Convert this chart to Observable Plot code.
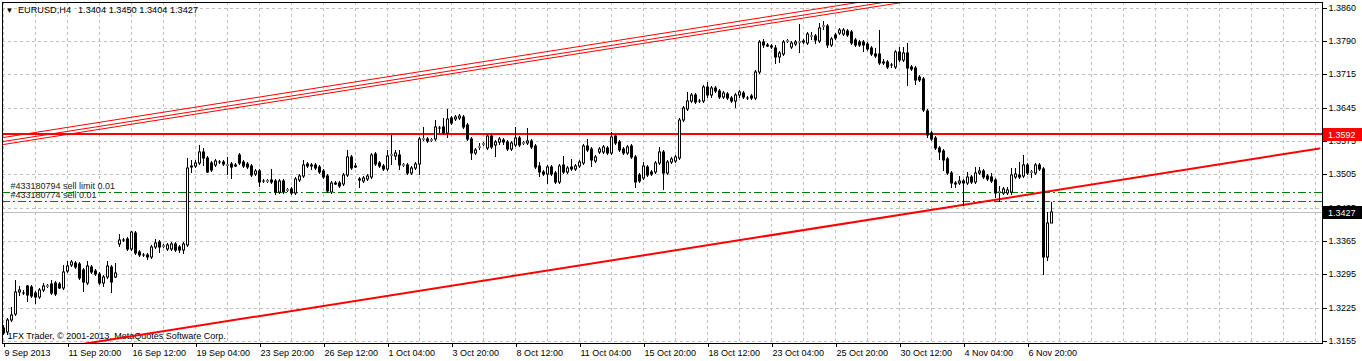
<!DOCTYPE html>
<html><head><meta charset="utf-8">
<script src="https://cdn.jsdelivr.net/npm/d3@7"></script>
<script src="https://cdn.jsdelivr.net/npm/@observablehq/plot@0.6"></script>
<style>
html,body{margin:0;padding:0;background:#fff;overflow:hidden}
svg{display:block}
</style>
</head><body><div id="chart"></div>
<script>
// ---------- data (EURUSD H4, bar 0 = 9 Sep 2013 04:00) ----------
const open = [
1.3183,1.3174,1.3199,1.3212,1.3259,1.3257,1.3271,1.3269,1.3257,1.3248,
1.3263,1.3271,1.3276,1.3278,1.3276,1.3267,1.3303,1.3316,1.3320,1.3318,
1.3305,1.3278,1.3312,1.3303,1.3297,1.3278,1.3290,1.3312,1.3290,1.3360,
1.3369,1.3371,1.3350,1.3384,1.3343,1.3337,1.3337,1.3333,1.3354,1.3364,
1.3356,1.3350,1.3350,1.3360,1.3354,1.3348,1.3358,1.3524,1.3525,1.3531,
1.3555,1.3542,1.3531,1.3527,1.3534,1.3534,1.3527,1.3529,1.3527,1.3548,
1.3534,1.3529,1.3525,1.3508,1.3515,1.3494,1.3493,1.3496,1.3494,1.3470,
1.3494,1.3474,1.3477,1.3468,1.3496,1.3504,1.3529,1.3527,1.3527,1.3523,
1.3515,1.3504,1.3470,1.3489,1.3489,1.3487,1.3506,1.3544,1.3525,1.3496,
1.3494,1.3498,1.3502,1.3550,1.3531,1.3525,1.3519,1.3548,1.3546,1.3548,
1.3527,1.3527,1.3510,1.3521,1.3529,1.3582,1.3582,1.3580,1.3582,1.3606,
1.3608,1.3595,1.3627,1.3624,1.3627,1.3629,1.3612,1.3582,1.3553,1.3565,
1.3571,1.3563,1.3588,1.3569,1.3576,1.3580,1.3576,1.3561,1.3569,1.3584,
1.3573,1.3574,1.3578,1.3567,1.3525,1.3512,1.3508,1.3523,1.3510,1.3491,
1.3527,1.3512,1.3523,1.3519,1.3525,1.3531,1.3567,1.3561,1.3536,1.3555,
1.3555,1.3563,1.3553,1.3588,1.3576,1.3561,1.3553,1.3567,1.3544,1.3506,
1.3500,1.3523,1.3512,1.3512,1.3531,1.3555,1.3510,1.3534,1.3536,1.3542,
1.3622,1.3646,1.3663,1.3675,1.3663,1.3663,1.3692,1.3675,1.3690,1.3684,
1.3671,1.3678,1.3669,1.3663,1.3675,1.3680,1.3669,1.3673,1.3669,1.3724,
1.3787,1.3781,1.3779,1.3775,1.3756,1.3762,1.3789,1.3777,1.3783,1.3787,
1.3787,1.3785,1.3800,1.3800,1.3789,1.3821,1.3821,1.3781,1.3802,1.3806,
1.3804,1.3811,1.3809,1.3792,1.3787,1.3787,1.3783,1.3775,1.3762,1.3762,
1.3745,1.3745,1.3739,1.3735,1.3766,1.3749,1.3764,1.3735,1.3732,1.3713,
1.3709,1.3642,1.3595,1.3584,1.3563,1.3557,1.3540,1.3510,1.3489,1.3489,
1.3494,1.3489,1.3502,1.3491,1.3510,1.3515,1.3504,1.3502,1.3496,1.3470,
1.3468,1.3468,1.3470,1.3502,1.3506,1.3504,1.3527,1.3512,1.3510,1.3527,
1.3519,1.3333,1.3404];
const high = [
1.3189,1.3204,1.3227,1.3284,1.3271,1.3263,1.3273,1.3273,1.3261,1.3267,
1.3278,1.3275,1.3284,1.3282,1.3280,1.3316,1.3324,1.3326,1.3324,1.3322,
1.3310,1.3324,1.3316,1.3307,1.3301,1.3295,1.3324,1.3316,1.3320,1.3381,
1.3373,1.3375,1.3388,1.3388,1.3348,1.3341,1.3341,1.3358,1.3371,1.3369,
1.3360,1.3362,1.3364,1.3364,1.3358,1.3364,1.3542,1.3538,1.3538,1.3569,
1.3563,1.3546,1.3536,1.3540,1.3538,1.3538,1.3544,1.3534,1.3531,1.3553,
1.3538,1.3534,1.3529,1.3519,1.3519,1.3498,1.3498,1.3519,1.3498,1.3498,
1.3498,1.3479,1.3481,1.3502,1.3508,1.3538,1.3534,1.3531,1.3531,1.3527,
1.3519,1.3508,1.3494,1.3494,1.3494,1.3510,1.3559,1.3548,1.3531,1.3502,
1.3504,1.3508,1.3553,1.3555,1.3536,1.3529,1.3559,1.3591,1.3559,1.3559,
1.3531,1.3531,1.3525,1.3534,1.3586,1.3608,1.3586,1.3584,1.3622,1.3610,
1.3627,1.3646,1.3631,1.3633,1.3635,1.3633,1.3616,1.3586,1.3563,1.3574,
1.3576,1.3593,1.3593,1.3580,1.3586,1.3584,1.3580,1.3578,1.3608,1.3588,
1.3578,1.3606,1.3582,1.3571,1.3534,1.3517,1.3527,1.3527,1.3515,1.3529,
1.3546,1.3525,1.3540,1.3529,1.3538,1.3571,1.3582,1.3565,1.3548,1.3565,
1.3569,1.3567,1.3597,1.3593,1.3580,1.3565,1.3569,1.3571,1.3548,1.3510,
1.3534,1.3527,1.3517,1.3536,1.3565,1.3559,1.3538,1.3544,1.3548,1.3627,
1.3652,1.3682,1.3680,1.3680,1.3667,1.3696,1.3703,1.3694,1.3694,1.3688,
1.3684,1.3682,1.3673,1.3680,1.3686,1.3684,1.3673,1.3678,1.3728,1.3792,
1.3794,1.3785,1.3783,1.3781,1.3768,1.3792,1.3794,1.3789,1.3792,1.3825,
1.3794,1.3808,1.3808,1.3804,1.3828,1.3832,1.3825,1.3798,1.3806,1.3817,
1.3817,1.3815,1.3813,1.3796,1.3792,1.3792,1.3787,1.3779,1.3775,1.3813,
1.3751,1.3749,1.3743,1.3771,1.3777,1.3777,1.3785,1.3739,1.3737,1.3718,
1.3713,1.3646,1.3599,1.3588,1.3567,1.3561,1.3544,1.3515,1.3494,1.3504,
1.3498,1.3512,1.3506,1.3523,1.3523,1.3519,1.3508,1.3510,1.3500,1.3483,
1.3481,1.3481,1.3521,1.3521,1.3534,1.3548,1.3531,1.3517,1.3531,1.3531,
1.3523,1.3428,1.3450];
const low = [
1.3168,1.3168,1.3195,1.3208,1.3250,1.3252,1.3238,1.3246,1.3233,1.3244,
1.3259,1.3267,1.3252,1.3250,1.3265,1.3263,1.3299,1.3312,1.3307,1.3284,
1.3259,1.3273,1.3297,1.3292,1.3273,1.3269,1.3286,1.3257,1.3288,1.3354,
1.3364,1.3345,1.3345,1.3337,1.3333,1.3333,1.3326,1.3328,1.3350,1.3341,
1.3352,1.3345,1.3345,1.3343,1.3341,1.3339,1.3354,1.3510,1.3521,1.3527,
1.3525,1.3510,1.3512,1.3523,1.3529,1.3525,1.3506,1.3498,1.3523,1.3527,
1.3521,1.3519,1.3502,1.3504,1.3481,1.3489,1.3489,1.3487,1.3464,1.3466,
1.3466,1.3470,1.3464,1.3464,1.3491,1.3500,1.3521,1.3517,1.3517,1.3508,
1.3498,1.3468,1.3466,1.3485,1.3479,1.3483,1.3502,1.3517,1.3521,1.3479,
1.3489,1.3494,1.3498,1.3525,1.3521,1.3515,1.3515,1.3527,1.3538,1.3517,
1.3523,1.3506,1.3506,1.3517,1.3506,1.3578,1.3573,1.3576,1.3578,1.3595,
1.3591,1.3584,1.3612,1.3620,1.3622,1.3603,1.3578,1.3538,1.3548,1.3559,
1.3567,1.3559,1.3561,1.3544,1.3569,1.3569,1.3557,1.3557,1.3565,1.3565,
1.3569,1.3569,1.3561,1.3519,1.3502,1.3504,1.3487,1.3504,1.3487,1.3487,
1.3508,1.3508,1.3515,1.3515,1.3521,1.3527,1.3555,1.3523,1.3531,1.3550,
1.3550,1.3548,1.3548,1.3569,1.3555,1.3548,1.3548,1.3540,1.3479,1.3489,
1.3496,1.3502,1.3504,1.3508,1.3527,1.3474,1.3506,1.3529,1.3531,1.3538,
1.3618,1.3642,1.3658,1.3656,1.3658,1.3658,1.3670,1.3670,1.3680,1.3667,
1.3667,1.3665,1.3658,1.3648,1.3670,1.3667,1.3665,1.3665,1.3665,1.3720,
1.3774,1.3777,1.3773,1.3741,1.3743,1.3758,1.3785,1.3773,1.3779,1.3764,
1.3783,1.3781,1.3792,1.3783,1.3785,1.3813,1.3775,1.3777,1.3792,1.3802,
1.3800,1.3798,1.3781,1.3777,1.3777,1.3766,1.3768,1.3758,1.3754,1.3739,
1.3739,1.3730,1.3732,1.3730,1.3745,1.3745,1.3694,1.3726,1.3696,1.3703,
1.3639,1.3584,1.3578,1.3559,1.3538,1.3515,1.3506,1.3479,1.3479,1.3485,
1.3441,1.3485,1.3487,1.3487,1.3506,1.3498,1.3494,1.3489,1.3457,1.3449,
1.3464,1.3464,1.3464,1.3498,1.3498,1.3500,1.3506,1.3500,1.3506,1.3515,
1.3295,1.3324,1.3404];
const close = [
1.3172,1.3199,1.3210,1.3259,1.3263,1.3256,1.3252,1.3250,1.3248,1.3263,
1.3271,1.3272,1.3257,1.3254,1.3267,1.3301,1.3314,1.3322,1.3312,1.3288,
1.3280,1.3314,1.3301,1.3297,1.3278,1.3290,1.3314,1.3280,1.3299,1.3369,
1.3368,1.3350,1.3386,1.3341,1.3337,1.3336,1.3333,1.3354,1.3362,1.3354,
1.3357,1.3358,1.3360,1.3348,1.3348,1.3360,1.3521,1.3525,1.3531,1.3555,
1.3542,1.3512,1.3517,1.3536,1.3533,1.3529,1.3528,1.3523,1.3526,1.3531,
1.3525,1.3523,1.3506,1.3515,1.3491,1.3493,1.3494,1.3491,1.3470,1.3494,
1.3470,1.3475,1.3468,1.3498,1.3504,1.3527,1.3525,1.3526,1.3521,1.3512,
1.3502,1.3472,1.3489,1.3488,1.3483,1.3506,1.3544,1.3521,1.3524,1.3497,
1.3500,1.3504,1.3548,1.3529,1.3525,1.3519,1.3546,1.3549,1.3553,1.3527,
1.3528,1.3510,1.3521,1.3529,1.3582,1.3583,1.3578,1.3581,1.3608,1.3605,
1.3595,1.3624,1.3616,1.3629,1.3631,1.3608,1.3582,1.3553,1.3559,1.3566,
1.3572,1.3588,1.3565,1.3576,1.3582,1.3576,1.3561,1.3574,1.3584,1.3569,
1.3574,1.3578,1.3565,1.3523,1.3512,1.3508,1.3523,1.3508,1.3491,1.3525,
1.3512,1.3521,1.3519,1.3525,1.3534,1.3567,1.3559,1.3538,1.3544,1.3561,
1.3565,1.3553,1.3586,1.3574,1.3559,1.3553,1.3565,1.3544,1.3491,1.3494,
1.3525,1.3506,1.3508,1.3531,1.3555,1.3510,1.3534,1.3540,1.3544,1.3622,
1.3648,1.3663,1.3675,1.3661,1.3662,1.3692,1.3675,1.3690,1.3684,1.3671,
1.3680,1.3669,1.3663,1.3675,1.3682,1.3671,1.3668,1.3669,1.3724,1.3787,
1.3781,1.3780,1.3777,1.3756,1.3764,1.3787,1.3790,1.3785,1.3787,1.3788,
1.3790,1.3804,1.3801,1.3792,1.3817,1.3822,1.3781,1.3794,1.3796,1.3813,
1.3813,1.3802,1.3785,1.3781,1.3781,1.3781,1.3773,1.3762,1.3758,1.3743,
1.3744,1.3735,1.3738,1.3766,1.3749,1.3764,1.3732,1.3730,1.3707,1.3707,
1.3644,1.3591,1.3582,1.3563,1.3555,1.3538,1.3510,1.3489,1.3488,1.3494,
1.3489,1.3502,1.3491,1.3510,1.3515,1.3502,1.3498,1.3494,1.3468,1.3471,
1.3477,1.3474,1.3506,1.3508,1.3502,1.3527,1.3510,1.3513,1.3527,1.3519,
1.3333,1.3404,1.3427];

const timeLabels = ["9 Sep 2013","11 Sep 20:00","16 Sep 12:00","19 Sep 04:00","23 Sep 20:00","26 Sep 12:00","1 Oct 04:00","3 Oct 20:00","8 Oct 12:00","11 Oct 04:00","15 Oct 20:00","18 Oct 12:00","23 Oct 04:00","25 Oct 20:00","30 Oct 12:00","4 Nov 04:00","6 Nov 20:00"];
const timeLabelBars = [0,16,32,48,64,80,96,112,128,144,160,176,192,208,224,240,256];
const priceTickValues = [1.3155,1.32255,1.3296,1.33665,1.3437,1.35075,1.3578,1.36485,1.3719,1.37895,1.3860];
const priceTickLabels = ["1.3155","1.3225","1.3295","1.3365","1.3435","1.3505","1.3575","1.3645","1.3715","1.3790","1.3860"];

const resistanceLevel = 1.3592;
const bidPrice = 1.3427;
const orders = [
  {label: "#433180794 sell limit 0.01", price: 1.3470},
  {label: "#433180774 sell 0.01", price: 1.3451}
];
const trendLower = [{bar: 0, price: 1.31226}, {bar: 329, price: 1.35631}];
const channelUpper = [
  {id: "a", bar: 0, price: 1.35855}, {id: "a", bar: 329, price: 1.40260},
  {id: "b", bar: 0, price: 1.35779}, {id: "b", bar: 329, price: 1.40184},
  {id: "c", bar: 0, price: 1.35707}, {id: "c", bar: 329, price: 1.40112}
];
const titleSymbol = "EURUSD,H4";
const titleQuotes = "1.3404 1.3450 1.3404 1.3427";
const copyrightText = "1FX Trader, \u00a9 2001-2013, MetaQuotes Software Corp.";

// ---------- build ----------
const bars = open.map((o, i) => ({
  i, o, h: high[i], l: low[i], c: close[i],
  top: Math.max(o, close[i]), bot: Math.min(o, close[i]), bull: close[i] > o
}));
const labelOf = new Map(priceTickValues.map((v, k) => [v, priceTickLabels[k]]));
const timeOf = new Map(timeLabelBars.map((b, k) => [b, timeLabels[k]]));
const FONT = "Liberation Sans, Arial, sans-serif";

const chart = Plot.plot({
  width: 1362, height: 361,
  marginLeft: 2, marginRight: 40, marginTop: 2, marginBottom: 18,
  style: {fontFamily: FONT, fontSize: "9px", background: "#fff", color: "#000", overflow: "visible"},
  x: {type: "linear", domain: [-0.25, 329.75], round: true},
  y: {domain: [1.31508, 1.38721], round: true},
  marks: [
    Plot.gridX(d3.range(0, 330, 8), {stroke: "#c0c0c0", strokeOpacity: 1, strokeDasharray: "3,3"}),
    Plot.gridY(priceTickValues, {stroke: "#c0c0c0", strokeOpacity: 1, strokeDasharray: "3,3"}),
    Plot.text([copyrightText], {frameAnchor: "bottom-left", dx: 5, dy: -7, textAnchor: "start", lineAnchor: "middle", fontSize: 9, fill: "#000"}),
    Plot.ruleY([bidPrice], {stroke: "#c0c0c0"}),
    Plot.ruleY(orders, {y: "price", stroke: "#008000", strokeDasharray: "8,3,2,3"}),
    Plot.text(orders, {y: "price", text: "label", frameAnchor: "left", dx: 8, dy: -6, textAnchor: "start", lineAnchor: "middle", fontSize: 9, fill: "#222"}),
    Plot.ruleY([resistanceLevel], {stroke: "#ff0000", strokeWidth: 2, dy: -0.5}),
    Plot.line(channelUpper, {x: "bar", y: "price", z: "id", stroke: "#ff0000", strokeWidth: 1, clip: true}),
    Plot.line(trendLower, {x: "bar", y: "price", stroke: "#ff0000", strokeWidth: 2, clip: true}),
    Plot.ruleX(bars, {x: "i", y1: "h", y2: "l", stroke: "#000"}),
    Plot.ruleX(bars, {x: "i", y1: "top", y2: "bot", stroke: "#000", strokeWidth: 3, insetTop: -0.5, insetBottom: -0.5}),
    Plot.ruleX(bars.filter(d => d.bull), {x: "i", y1: "top", y2: "bot", stroke: "#fff", strokeWidth: 1, insetTop: 0.5, insetBottom: 0.5}),
    Plot.text(["\u25BC"], {frameAnchor: "top-left", dx: 7, dy: 8, textAnchor: "middle", lineAnchor: "middle", fontSize: 8, fill: "#000"}),
    Plot.frame({stroke: "#000"}),
    Plot.axisY({anchor: "right", ticks: priceTickValues, tickFormat: d => labelOf.get(d), tickSize: 4, tickPadding: 2, fontSize: 9}),
    Plot.axisX({anchor: "bottom", ticks: timeLabelBars, tickFormat: d => timeOf.get(d), tickSize: 4, tickPadding: 2, textAnchor: "start", dx: 1, fontSize: 9})
  ]
});

const svg = d3.select(chart);
// chart title (symbol, timeframe, OHLC of the last bar) in the top-left corner
const title = svg.append("g").attr("font-family", FONT).attr("font-size", 9.5).attr("text-anchor", "start").attr("fill", "#000");
title.append("text").attr("x", 18).attr("y", 10).attr("dy", "0.35em")
  .attr("textLength", 53).attr("lengthAdjust", "spacingAndGlyphs").text(titleSymbol);
title.append("text").attr("x", 78).attr("y", 10).attr("dy", "0.35em")
  .attr("textLength", 120).attr("lengthAdjust", "spacingAndGlyphs").text(titleQuotes);

// price tags on the right axis
const ys = chart.scale("y");
const tags = svg.append("g").attr("font-family", FONT).attr("font-size", 9).attr("text-anchor", "start");
[[resistanceLevel, "#ff0000", "1.3592"], [bidPrice, "#000000", "1.3427"]].forEach(([p, col, txt]) => {
  const yy = Math.round(ys.apply(p));
  tags.append("rect").attr("x", 1323).attr("y", yy - 6).attr("width", 39).attr("height", 13).attr("fill", col);
  tags.append("text").attr("x", 1328).attr("y", yy + 0.5).attr("dy", "0.35em")
    .attr("text-anchor", "start").attr("fill", "#fff").text(txt);
});

document.getElementById("chart").appendChild(chart);
</script>
</body></html>
